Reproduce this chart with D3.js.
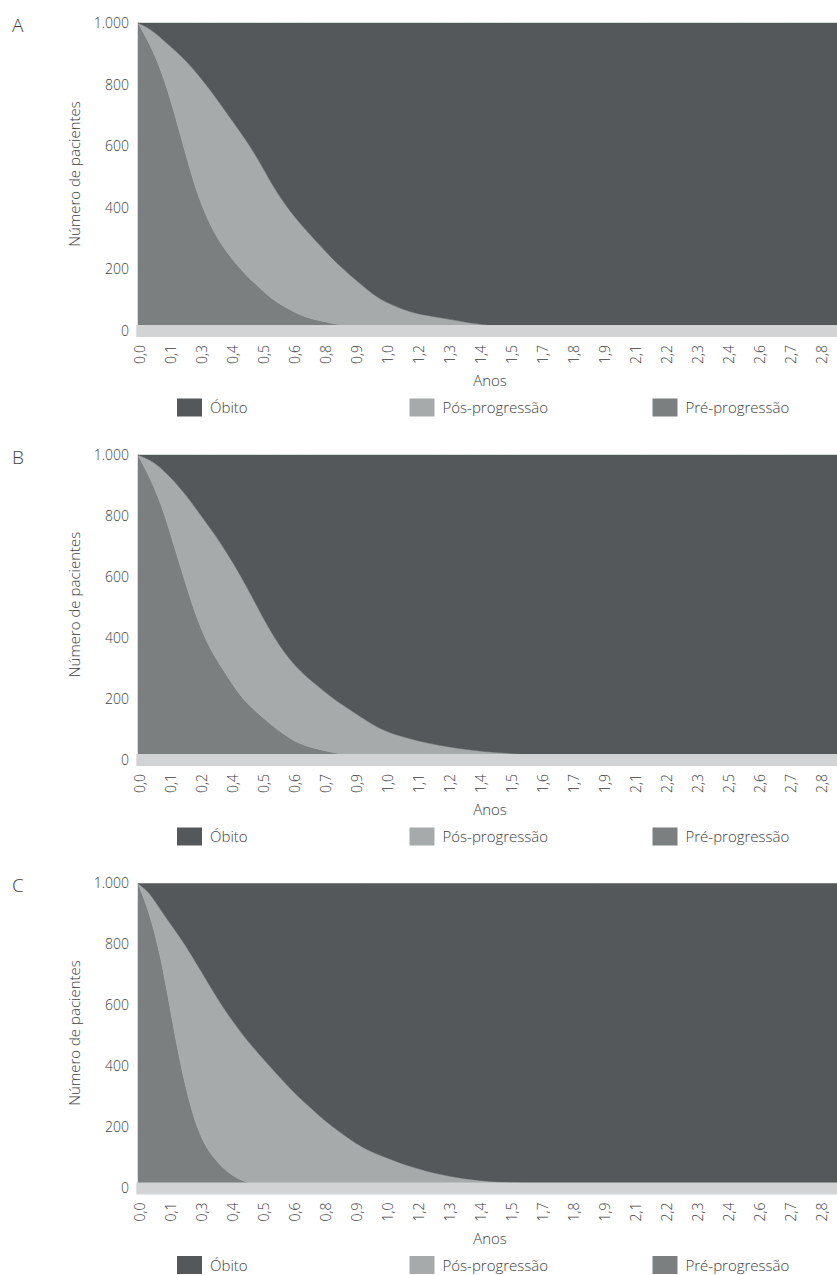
<!DOCTYPE html>
<html>
<head>
<meta charset="utf-8">
<script src="https://cdn.jsdelivr.net/npm/d3@7"></script>
<style>
  body { margin: 0; background: #fff; }
  svg { display: block; font-family: "Open Sans", "Noto Sans", sans-serif; font-weight: 300; }
</style>
</head>
<body>
<svg id="chart" width="837" height="1275"></svg>
<script>
// years on the x axis for every series point
const years = [0, 0.05, 0.1, 0.15, 0.2, 0.25, 0.3, 0.35, 0.4, 0.45, 0.5, 0.55, 0.6, 0.65, 0.7, 0.75,
  0.8, 0.85, 0.9, 0.95, 1.0, 1.05, 1.1, 1.15, 1.2, 1.25, 1.3, 1.35, 1.4, 1.45, 1.5,
  1.6, 1.7, 1.8, 1.9, 2.0, 2.2, 2.4, 2.6, 2.9];

// patients in pre-progression, and patients alive (pre + post), per panel
const preA = [1000, 930, 840, 712, 567, 434, 342, 275, 224, 180, 144, 107, 82, 60, 44, 34,
  26, 18, 12, 8, 5, 3, 2, 1, 0, 0, 0, 0, 0, 0, 0, 0, 0, 0, 0, 0, 0, 0, 0, 0];
const aliveA = [1000, 982, 948, 914, 877, 832, 783, 728, 673, 618, 556, 484, 422, 370, 325, 282,
  240, 202, 168, 135, 105, 86, 70, 58, 50, 44, 37, 30, 24, 19, 16, 10, 6, 4, 2, 1, 0, 0, 0, 0];

const preB = [1000, 925, 832, 702, 571, 450, 362, 300, 238, 186, 152, 117, 87, 61, 45, 35,
  26, 18, 12, 8, 5, 3, 2, 1, 0, 0, 0, 0, 0, 0, 0, 0, 0, 0, 0, 0, 0, 0, 0, 0];
const aliveB = [1000, 985, 955, 915, 868, 814, 760, 703, 640, 570, 495, 422, 360, 310, 272, 240,
  207, 180, 154, 128, 104, 88, 76, 65, 56, 48, 42, 36, 31, 27, 24, 19, 15, 11, 8, 6, 3, 1, 0, 0];

const preC = [1000, 900, 743, 512, 318, 184, 112, 69, 37, 20, 12, 8, 5, 3, 2, 1,
  0, 0, 0, 0, 0, 0, 0, 0, 0, 0, 0, 0, 0, 0, 0, 0, 0, 0, 0, 0, 0, 0, 0, 0];
const aliveC = [1000, 970, 905, 852, 794, 728, 662, 597, 541, 488, 443, 398, 355, 312, 276, 240,
  207, 178, 150, 127, 110, 95, 80, 68, 56, 47, 39, 33, 28, 24, 21, 18, 14, 11, 8, 6, 3, 1, 0, 0];

const ticksA = ["0,0", "0,1", "0,3", "0,4", "0,5", "0,6", "0,8", "0,9", "1,0", "1,2", "1,3", "1,4",
  "1,5", "1,7", "1,8", "1,9", "2,1", "2,2", "2,3", "2,4", "2,6", "2,7", "2,8"];
const ticksB = ["0,0", "0,1", "0,2", "0,4", "0,5", "0,6", "0,7", "0,9", "1,0", "1,1", "1,2", "1,4",
  "1,5", "1,6", "1,7", "1,9", "2,1", "2,2", "2,3", "2,5", "2,6", "2,7", "2,8"];
const ticksC = ticksA.slice();

const yTicks = [0, 200, 400, 600, 800, 1000];
const seriesKeys = ["pre", "post", "obito"];
const seriesNames = { obito: "Óbito", post: "Pós-progressão", pre: "Pré-progressão" };
const legendOrder = ["obito", "post", "pre"];
const colors = { obito: "#54585a", post: "#a7aaab", pre: "#7b7f80" };

const panels = [
  { letter: "A", pre: preA, alive: aliveA, ticks: ticksA, top: 23, zero: 331 },
  { letter: "B", pre: preB, alive: aliveB, ticks: ticksB, top: 455, zero: 760 },
  { letter: "C", pre: preC, alive: aliveC, ticks: ticksC, top: 883.5, zero: 1188.5 }
];

const svg = d3.select("#chart");
const left = 138, right = 837;
const x = d3.scaleLinear().domain([0, 2.9]).range([left, right]);
const ptFormat = d3.formatLocale({ decimal: ",", thousands: ".", grouping: [3], currency: ["", ""] }).format(",");

panels.forEach(p => {
  const g = svg.append("g");
  const y = d3.scaleLinear().domain([0, 1000]).range([p.zero, p.top]);

  const rows = years.map((t, i) => ({
    year: t,
    pre: p.pre[i],
    post: p.alive[i] - p.pre[i],
    obito: 1000 - p.alive[i]
  }));
  const stacked = d3.stack().keys(seriesKeys)(rows);

  const area = d3.area()
    .x(d => x(d.data.year))
    .y0(d => y(d[0]))
    .y1(d => y(d[1]))
    .curve(d3.curveBasis);

  g.append("g")
    .selectAll("path")
    .data(stacked)
    .enter()
    .append("path")
    .attr("fill", d => colors[d.key])
    .attr("stroke", d => colors[d.key])
    .attr("stroke-width", 0.5)
    .attr("d", area);

  // thick light axis band along zero
  g.append("rect")
    .attr("x", left - 1.7)
    .attr("y", y(0) - 6)
    .attr("width", right - left + 1.7)
    .attr("height", 12)
    .attr("fill", "#d1d3d4");

  // y axis
  const yAxis = g.append("g")
    .attr("transform", `translate(${left},0)`)
    .call(d3.axisLeft(y).tickValues(yTicks).tickSize(0).tickPadding(9).tickFormat(ptFormat));
  yAxis.select(".domain").remove();
  yAxis.selectAll("text")
    .attr("font-size", 14)
    .attr("font-family", "\"Open Sans\", sans-serif")
    .attr("fill", "#3d3d3d");

  // x axis (category labels)
  const xp = d3.scalePoint().domain(p.ticks).range([140, 821.7]);
  const xAxis = g.append("g")
    .attr("transform", `translate(0,${y(0)})`)
    .call(d3.axisBottom(xp).tickSize(0));
  xAxis.select(".domain").remove();
  xAxis.selectAll("text")
    .attr("transform", "rotate(-90)")
    .attr("x", -14)
    .attr("y", 0)
    .attr("dy", "0.35em")
    .attr("text-anchor", "end")
    .attr("font-size", 14)
    .attr("font-family", "\"Open Sans\", sans-serif")
    .attr("fill", "#3d3d3d");

  // panel letter
  g.append("text")
    .attr("x", 12)
    .attr("y", p.top + 8.5)
    .attr("font-size", 19)
    .attr("fill", "#3d3d3d")
    .text(p.letter);

  // y title
  const cy = (p.top + p.zero) / 2 - 3;
  g.append("text")
    .attr("transform", `translate(75,${cy}) rotate(-90)`)
    .attr("dy", "0.35em")
    .attr("text-anchor", "middle")
    .attr("font-size", 15)
    .attr("fill", "#3d3d3d")
    .text("Número de pacientes");

  // x title
  g.append("text")
    .attr("x", 490)
    .attr("y", p.zero + 55)
    .attr("text-anchor", "middle")
    .attr("font-size", 15)
    .attr("fill", "#3d3d3d")
    .text("Anos");

  // legend
  const legendX = [177, 409.5, 652.5];
  const legend = g.append("g")
    .selectAll("g")
    .data(legendOrder)
    .enter()
    .append("g")
    .attr("transform", (d, i) => `translate(${legendX[i]},${p.zero + 67.5})`);
  legend.append("rect")
    .attr("width", 25)
    .attr("height", 18)
    .attr("fill", d => colors[d]);
  legend.append("text")
    .attr("x", 33)
    .attr("y", 14.5)
    .attr("font-size", 15)
    .attr("fill", "#3d3d3d")
    .text(d => seriesNames[d]);
});
</script>
</body>
</html>
